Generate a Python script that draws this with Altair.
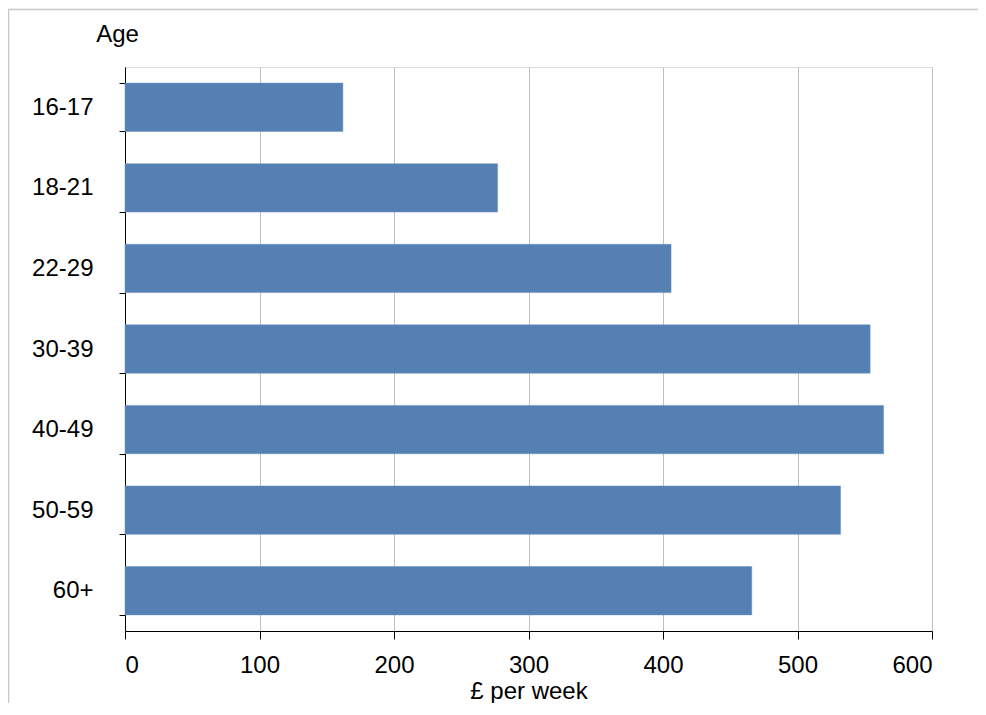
import altair as alt
import pandas as pd

ages = ["16-17", "18-21", "22-29", "30-39", "40-49", "50-59", "60+"]
pay = [162, 277, 406, 554, 564, 532, 466]
x_ticks = [0, 100, 200, 300, 400, 500, 600]

df = pd.DataFrame({"age": ages, "pay": pay})

FONT = "Liberation Sans"

bars = alt.Chart(df).mark_bar(color="#5580B4", stroke="#6a90c0", strokeWidth=0.5).encode(
    x=alt.X(
        "pay:Q",
        scale=alt.Scale(domain=[0, 600], nice=False, zero=True),
        axis=alt.Axis(
            values=x_ticks,
            title="£ per week",
            titleFont=FONT,
            titleFontSize=24,
            titleFontWeight="normal",
            titleColor="#000000",
            titleY=67,
            titleBaseline="alphabetic",
            labelFont=FONT,
            labelFontSize=24,
            labelColor="#000000",
            labelBaseline="middle",
            labelPadding=26,
            tickSize=8,
            tickColor="#000000",
            domainColor="#000000",
            gridColor="#c0c0c0",
            gridWidth=1,
            grid=True,
        ),
    ),
    y=alt.Y(
        "age:N",
        sort=ages,
        scale=alt.Scale(paddingInner=0.4, paddingOuter=0.2),
        axis=alt.Axis(
            title="Age",
            titleFont=FONT,
            titleFontSize=24,
            titleFontWeight="normal",
            titleColor="#000000",
            titleAngle=0,
            titleAlign="center",
            titleBaseline="alphabetic",
            titleX=-8,
            titleY=-26,
            labelFont=FONT,
            labelFontSize=24,
            labelColor="#000000",
            labelPadding=26,
            tickSize=6,
            tickColor="#000000",
            tickBand="extent",
            domainColor="#000000",
            grid=False,
        ),
    ),
)

frame_top = alt.Chart(pd.DataFrame({"a": [0]})).mark_rule(
    stroke="#c8c8c8", strokeWidth=1.5, clip=False
).encode(x=alt.value(-117), x2=alt.value(853), y=alt.value(-57.5))

frame_left = alt.Chart(pd.DataFrame({"a": [0]})).mark_rule(
    stroke="#c8c8c8", strokeWidth=1.5, clip=False
).encode(x=alt.value(-116.5), y=alt.value(-58), y2=alt.value(636))

chart = alt.layer(frame_top, frame_left, bars).properties(
    width=807,
    height=564,
    autosize=alt.AutoSizeParams(type="none"),
    padding={"left": 117, "top": 59, "right": 46, "bottom": 72},
).configure_view(stroke=None).configure(background="white")

chart.save("out.html", embed_options={"renderer": "svg", "actions": False})
